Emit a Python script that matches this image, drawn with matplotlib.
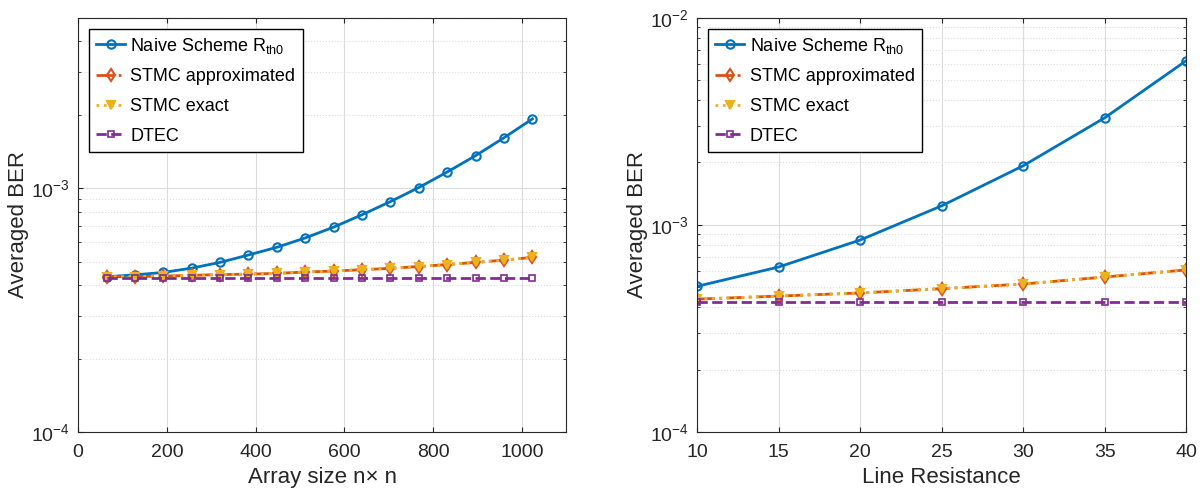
import numpy as np
import matplotlib
matplotlib.use("Agg")
import matplotlib.pyplot as plt
from matplotlib.ticker import LogLocator, NullFormatter

plt.rcParams['font.family'] = ['Liberation Sans', 'DejaVu Sans']
plt.rcParams['mathtext.fontset'] = 'custom'
plt.rcParams['mathtext.rm'] = 'Liberation Sans'
plt.rcParams['mathtext.it'] = 'Liberation Sans'

# left panel: array size
array_size = [64 * k for k in range(1, 17)]
naive_size = [4.33e-4, 4.41e-4, 4.51e-4, 4.70e-4, 4.96e-4, 5.32e-4, 5.72e-4, 6.25e-4,
              6.92e-4, 7.78e-4, 8.81e-4, 1.006e-3, 1.165e-3, 1.36e-3, 1.61e-3, 1.923e-3]
stmc_approx_size = [4.33e-4, 4.34e-4, 4.36e-4, 4.39e-4, 4.42e-4, 4.44e-4, 4.47e-4, 4.53e-4,
                    4.57e-4, 4.63e-4, 4.69e-4, 4.77e-4, 4.86e-4, 4.96e-4, 5.07e-4, 5.20e-4]
stmc_exact_size = stmc_approx_size
dtec_size = [4.28e-4] * 16

# right panel: line resistance
line_res = [10, 15, 20, 25, 30, 35, 40]
naive_res = [5.05e-4, 6.26e-4, 8.45e-4, 1.236e-3, 1.93e-3, 3.29e-3, 6.21e-3]
stmc_approx_res = [4.38e-4, 4.53e-4, 4.69e-4, 4.92e-4, 5.18e-4, 5.60e-4, 6.06e-4]
stmc_exact_res = stmc_approx_res
dtec_res = [4.26e-4] * 7

labels = ['Naive Scheme R$_{\\mathrm{th0}}$', 'STMC approximated', 'STMC exact', 'DTEC']
blue, orange, yellow, purple = '#0072BD', '#D95319', '#EDB120', '#7E2F8E'


def draw(ax, x, naive, approx, exact, dtec):
    ax.plot(x, naive, '-o', color=blue, lw=2, ms=6, mfc='none', mew=1.5, label=labels[0])
    ax.plot(x, approx, '-.d', color=orange, lw=2, ms=6, mfc='none', mew=1.5, label=labels[1])
    ax.plot(x, exact, ':v', color=yellow, lw=2, ms=6, mfc=yellow, mew=1.5, label=labels[2])
    ax.plot(x, dtec, '--s', color=purple, lw=2, ms=5, mfc='none', mew=1.2, label=labels[3])
    ax.set_yscale('log')
    ax.yaxis.set_major_locator(LogLocator(base=10))
    ax.yaxis.set_minor_locator(LogLocator(base=10, subs=np.arange(2, 10)))
    ax.yaxis.set_minor_formatter(NullFormatter())
    ax.grid(True, which='major', color='#dcdcdc', lw=0.8)
    ax.grid(True, which='minor', axis='y', color='#dcdcdc', lw=0.8, ls=':')
    ax.set_axisbelow(True)
    ax.tick_params(which='both', direction='in', top=True, right=True, labelsize=14,
                   colors='#262626')
    ax.tick_params(axis='x', pad=9)
    ax.tick_params(axis='y', pad=6)
    for sp in ax.spines.values():
        sp.set_color('#262626')
    ax.set_ylabel('Averaged BER', fontsize=16, color='#262626', labelpad=1)
    leg = ax.legend(loc='upper left', fontsize=13, fancybox=False, framealpha=1,
                    edgecolor='black', handlelength=1.6, handletextpad=0.3,
                    borderaxespad=0.6, labelspacing=0.7, borderpad=0.4)
    leg.get_frame().set_linewidth(1.0)


fig = plt.figure(figsize=(12.02, 4.92), dpi=100)
ax1 = fig.add_axes([0.065, 0.122, 0.406, 0.842])
ax2 = fig.add_axes([0.580, 0.122, 0.407, 0.842])

draw(ax1, array_size, naive_size, stmc_approx_size, stmc_exact_size, dtec_size)
ax1.set_xlim(0, 1100)
ax1.set_ylim(1e-4, 5e-3)
ax1.set_xticks([0, 200, 400, 600, 800, 1000])
ax1.set_xlabel('Array size n\u00d7 n', fontsize=16, color='#262626', labelpad=4)

draw(ax2, line_res, naive_res, stmc_approx_res, stmc_exact_res, dtec_res)
ax2.set_xlim(10, 40)
ax2.set_ylim(1e-4, 1e-2)
ax2.set_xticks([10, 15, 20, 25, 30, 35, 40])
ax2.set_xlabel('Line Resistance', fontsize=16, color='#262626', labelpad=4)

fig.savefig('out.png', dpi=100)
